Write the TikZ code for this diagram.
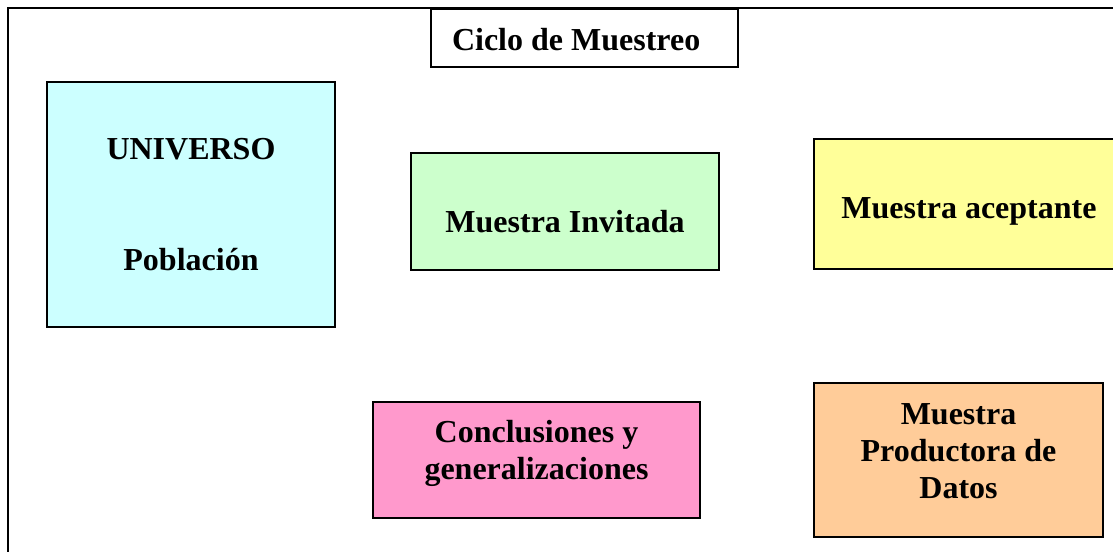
\documentclass[tikz,border=0pt]{standalone}
\usepackage{fontspec}
\setmainfont{Liberation Serif}
\definecolor{celeste}{HTML}{CCFFFF}
\definecolor{verdeclaro}{HTML}{CCFFCC}
\definecolor{amarillo}{HTML}{FFFF99}
\definecolor{rosa}{HTML}{FF99CC}
\definecolor{naranja}{HTML}{FFCC99}
\tikzset{
    caja/.style={draw, line width=1.5pt, anchor=north west, align=center,
        inner xsep=0pt, inner ysep=0pt,
        font=\bfseries\fontsize{24}{27.75}\selectfont},
}

\begin{document}
\begin{tikzpicture}[x=0.75pt,y=-0.75pt]
    \clip (0,0) rectangle (1113,551);
    \fill[white] (0,0) rectangle (1113,551);
    % marco exterior
    \draw[line width=1.5pt] (1130,8) -- (8,8) -- (8,570);
    \node[caja, fill=white, align=flush left, inner xsep=15.75pt, text width=198.75pt,
        text height=30.75pt, text depth=12.75pt] (Titulo) at (430,8) {Ciclo de Muestreo};
    \node[caja, fill=celeste, minimum width=216pt,
        text height=141pt, text depth=42.75pt] (Universo) at (46,81) {UNIVERSO\\[55.5pt]Población};
    \node[caja, fill=verdeclaro, minimum width=231pt,
        text height=59.25pt, text depth=28.5pt] (Invitada) at (410,152) {Muestra Invitada};
    \node[caja, fill=amarillo, minimum width=232.5pt,
        text height=59.25pt, text depth=38.25pt] (Aceptante) at (813,138) {Muestra aceptante};
    \node[caja, fill=rosa, minimum width=245.25pt,
        text height=57.75pt, text depth=29.25pt] (Conclusiones) at (372,401) {Conclusiones y\\generalizaciones};
    \node[caja, fill=naranja, minimum width=216.75pt,
        text height=86.25pt, text depth=29.25pt] (Productora) at (813,382) {Muestra\\Productora de\\Datos};
\end{tikzpicture}
\end{document}
